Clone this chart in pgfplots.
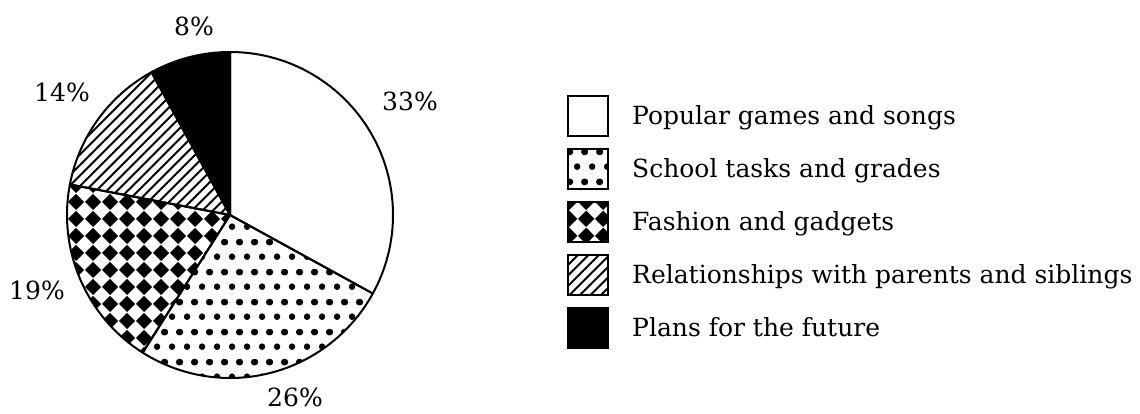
\documentclass[border=0pt]{standalone}
\usepackage{fontspec}
\setmainfont{DejaVu Serif}
\usepackage{pgfplots}
\usepackage{pgfplotstable}
\pgfplotsset{compat=1.18}
\usetikzlibrary{patterns}

% fill patterns of the scan
\pgfdeclarepatternformonly{qdots}{\pgfqpoint{0pt}{0pt}}{\pgfqpoint{7.5pt}{15pt}}{\pgfqpoint{7.5pt}{15pt}}{%
  \pgfpathcircle{\pgfqpoint{3.75pt}{3.75pt}}{1.7pt}%
  \pgfpathcircle{\pgfqpoint{0pt}{11.25pt}}{1.7pt}%
  \pgfpathcircle{\pgfqpoint{7.5pt}{11.25pt}}{1.7pt}%
  \pgfusepath{fill}}
\pgfdeclarepatternformonly{diamonds}{\pgfqpoint{0pt}{0pt}}{\pgfqpoint{8.5pt}{8.5pt}}{\pgfqpoint{8.5pt}{8.5pt}}{%
  \pgfpathmoveto{\pgfqpoint{4.25pt}{0pt}}%
  \pgfpathlineto{\pgfqpoint{8.5pt}{4.25pt}}%
  \pgfpathlineto{\pgfqpoint{4.25pt}{8.5pt}}%
  \pgfpathlineto{\pgfqpoint{0pt}{4.25pt}}%
  \pgfpathclose\pgfusepath{fill}}
\pgfdeclarepatternformonly{hatch}{\pgfqpoint{-1pt}{-1pt}}{\pgfqpoint{6.25pt}{6.25pt}}{\pgfqpoint{5.25pt}{5.25pt}}{%
  \pgfsetlinewidth{0.9pt}%
  \pgfpathmoveto{\pgfqpoint{0pt}{0pt}}%
  \pgfpathlineto{\pgfqpoint{5.35pt}{5.35pt}}%
  \pgfusepath{stroke}}

% value, fill, position of the percent label (pixels of the scan)
\pgfplotstableread{
value fill            lx  ly  label
33    fill=white      410 101 {Popular games and songs}
26    pattern=qdots   295 397 {School tasks and grades}
19    pattern=diamonds 37 290 {Fashion and gadgets}
14    pattern=hatch    62  92 {Relationships with parents and siblings}
8     fill=black      194  26 {Plans for the future}
}\piedata

\begin{document}
\begin{tikzpicture}[font=\fontsize{12.5pt}{14pt}\selectfont]
\begin{axis}[
  width=570pt, height=206.5pt, scale only axis, hide axis,
  xmin=0, xmax=1140, ymin=0, ymax=413, y dir=reverse, clip=false,
  legend image code/.code={\draw[#1, draw=black, line width=0.9pt] (0pt,-10pt) rectangle (20pt,10pt);},
  legend style={at={(axis cs:567,95)}, anchor=north west, draw=none, fill=none,
    inner sep=0pt, row sep=5.6pt, font=\fontsize{12.5pt}{14pt}\selectfont,
    nodes={inner sep=0pt, anchor=west},
    /tikz/every odd column/.append style={column sep=11.5pt}},
  legend cell align=left,
]
\coordinate (bl) at (axis cs:0,413);
\coordinate (tr) at (axis cs:1140,0);
\def\startang{90}
\pgfplotsforeachungrouped \i in {0,...,4}{%
  \pgfplotstablegetelem{\i}{value}\of\piedata \let\v\pgfplotsretval
  \pgfplotstablegetelem{\i}{fill}\of\piedata \let\p\pgfplotsretval
  \pgfplotstablegetelem{\i}{lx}\of\piedata \let\lx\pgfplotsretval
  \pgfplotstablegetelem{\i}{ly}\of\piedata \let\ly\pgfplotsretval
  \pgfplotstablegetelem{\i}{label}\of\piedata \let\lab\pgfplotsretval
  \pgfmathsetmacro\endang{\startang-3.6*\v}%
  \edef\tmp{%
    \noexpand\filldraw[\p, draw=black, line width=1pt, line join=round]
      (axis cs:230,215) -- ++(\startang:81.5pt)
      arc[start angle=\startang, end angle=\endang, radius=81.5pt] -- cycle;
    \noexpand\node[inner sep=1pt] at (axis cs:\lx,\ly) {\v\noexpand\%};
    \noexpand\addlegendimage{\p}
    \noexpand\addlegendentry{\lab}%
  }\tmp
  \let\startang\endang
}
\end{axis}
\pgfresetboundingbox
\useasboundingbox (bl) rectangle (tr);
\end{tikzpicture}
\end{document}
